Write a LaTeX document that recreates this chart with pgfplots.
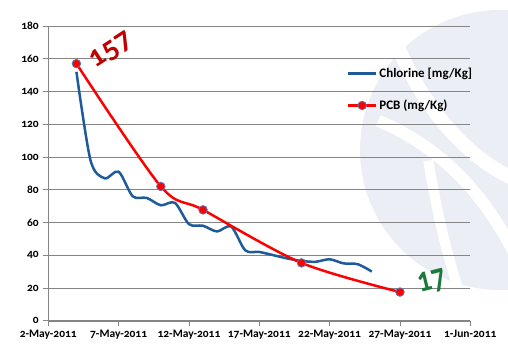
\documentclass[border=0pt]{standalone}
\usepackage{fontspec}
\setmainfont{Carlito}[Numbers=OldStyle]
\usepackage{pgfplots}
\pgfplotsset{compat=1.18}
\definecolor{chl}{HTML}{1F5A9A}
\definecolor{pcb}{HTML}{FF0000}
\definecolor{mkb}{HTML}{4F81BD}
\definecolor{gridc}{HTML}{858585}
\definecolor{lab1}{HTML}{C00000}
\definecolor{lab2}{HTML}{1A7A3A}
\definecolor{wm}{HTML}{EBEEF4}
\pgfplotsset{
  mylegimg/.style={legend image code/.code={\draw[mark repeat=2,mark phase=2,##1] plot coordinates {(0pt,0pt) (14pt,0pt) (28pt,0pt)};}}
}
\begin{document}
\begin{tikzpicture}
\useasboundingbox (-48.3pt,-32.3pt) rectangle (459.7pt,320.7pt);
\begin{scope}
\clip (-48.3pt,-32.3pt) rectangle (459.7pt,320.7pt);
\fill[wm] (451.7pt,170.7pt) circle (140pt);
\draw[white,line width=14pt] (330pt,330pt) .. controls (360pt,220pt) and (420pt,160pt) .. (470pt,140pt);
\draw[white,line width=12pt] (330pt,200pt) .. controls (400pt,170pt) and (440pt,120pt) .. (470pt,60pt);
\draw[white,line width=10pt] (380pt,160pt) .. controls (390pt,100pt) and (400pt,60pt) .. (420pt,0pt);
\end{scope}
\begin{axis}[
  mylegimg,
  scale only axis,
  width=422pt, height=294.7pt,
  xmin=0, xmax=30, ymin=0, ymax=180,
  axis lines*=left,
  axis line style={gridc},
  xtick={0,5,10,15,20,25,30},
  xticklabels={2-May-2011,7-May-2011,12-May-2011,17-May-2011,22-May-2011,27-May-2011,1-Jun-2011},
  ytick={0,20,...,180},
  tick align=outside,
  major tick length=5pt,
  tick style={gridc, line width=0.8pt},
  ymajorgrids,
  grid style={gridc, line width=0.8pt},
  /pgf/number format/assume math mode=true,
  tick label style={font=\fontsize{11.5}{14}\selectfont\bfseries},
  yticklabel style={xshift=-1pt},
  xticklabel style={yshift=-1pt},
  legend style={at={(0.70,0.872)}, anchor=north west, draw=none, fill=none,
    font=\fontsize{13}{15}\selectfont\bfseries, row sep=17pt,
    legend cell align=left},
  clip=false,
]
\addplot[chl, line width=2.5pt, smooth, tension=0.5] coordinates {
 (2,152) (3,98) (4,87) (5,91) (6,76) (7,75) (8,70.5) (9,72)
 (10,59) (11,58) (12,54.5) (13,57.5) (14,43) (15,42) (16,40)
 (17,38) (18,36.5) (19,36) (20,37.5) (21,35) (22,34.5) (23,30)
};
\addlegendentry{Chlorine [mg/Kg]}
\addplot[pcb, line width=2.5pt, smooth, tension=0.5, mark=*, mark size=4.3pt,
  mark options={fill=pcb, draw=mkb, line width=0.8pt}] coordinates {
 (2,157) (8,82) (11,67.7) (18,35.3) (25,17.5)
};
\addlegendentry{PCB (mg/Kg)}
\node[rotate=33, text=lab1, font=\fontsize{30}{32}\selectfont\bfseries] at (axis cs:4.5,165) {157};
\node[rotate=14, yscale=1.3, text=lab2, font=\fontsize{27}{29}\selectfont\bfseries] at (axis cs:27.3,23.5) {17};
\end{axis}
\end{tikzpicture}
\end{document}
